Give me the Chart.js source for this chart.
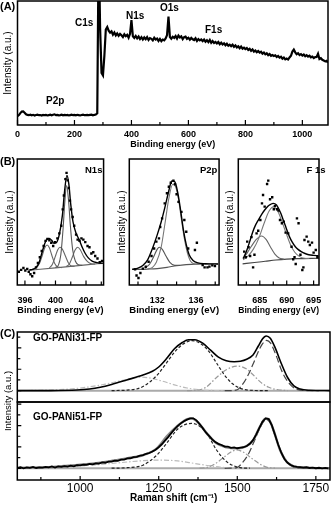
<!DOCTYPE html>
<html>
<head>
<meta charset="utf-8">
<script src="https://cdn.jsdelivr.net/npm/chart.js@4.4.1/dist/chart.umd.min.js"></script>
<style>
html,body{margin:0;padding:0;background:#fff;}
body{position:relative;width:332px;height:506px;overflow:hidden;font-family:"Liberation Sans",Arial,sans-serif;color:#000;}
canvas{position:absolute;}
.t{position:absolute;font-weight:bold;font-size:10px;line-height:10px;white-space:nowrap;}
.p{font-size:11px;line-height:11px;}
.s{font-size:9.5px;line-height:10px;}
.vt{position:absolute;font-size:9.5px;line-height:10px;white-space:nowrap;transform:translate(-50%,-50%) rotate(-90deg);}
</style>
</head>
<body>
<canvas id="cA" width="332" height="152" style="left:0;top:0"></canvas>
<canvas id="cB1" width="112" height="163" style="left:0;top:155px"></canvas>
<canvas id="cB2" width="112" height="163" style="left:114px;top:155px"></canvas>
<canvas id="cB3" width="108" height="163" style="left:224px;top:155px"></canvas>
<canvas id="cC1" width="332" height="74" style="left:0;top:330px"></canvas>
<canvas id="cC2" width="332" height="106" style="left:0;top:400px"></canvas>

<div class="t p" style="left:0;top:1px">(A)</div>
<div class="t" style="left:75px;top:18px">C1s</div>
<div class="t" style="left:126px;top:10.5px">N1s</div>
<div class="t" style="left:160px;top:3px">O1s</div>
<div class="t" style="left:205px;top:25px">F1s</div>
<div class="t" style="left:46px;top:96px">P2p</div>

<div class="t p" style="left:0;top:156px">(B)</div>
<div class="t s" style="left:85px;top:164.5px">N1s</div>
<div class="t s" style="left:200px;top:164.5px">P2p</div>
<div class="t s" style="left:306.5px;top:164.5px">F 1s</div>

<div class="t p" style="left:0;top:328px">(C)</div>
<div class="t" style="left:33px;top:333px">GO-PANi31-FP</div>
<div class="t" style="left:33px;top:412px">GO-PANi51-FP</div>
<div class="vt" style="left:8px;top:401px">Intensity (a.u.)</div>

<script>
// ---------- (A) XPS survey ----------
const surveyStart = 0;      // eV
const surveyStep = 5;       // eV
const surveyCounts = [
  7.2, 8.0, 9.6, 10.8, 10.9, 9.9, 8.6, 8.1, 7.9, 8.3,
  7.8, 8.2, 7.7, 8.1, 8.4, 7.9, 8.0, 7.6, 8.2, 7.9,
  8.1, 7.7, 8.0, 8.3, 7.8, 8.2, 8.6, 7.9, 8.1, 7.8,
  8.0, 8.3, 7.8, 8.1, 7.9, 8.2, 7.7, 8.0, 8.3, 7.9,
  8.1, 7.8, 8.2, 8.0, 7.7, 8.1, 8.4, 7.9, 8.0, 8.2,
  7.9, 8.1, 8.3, 7.8, 8.2, 8.4, 9.5, 150, 78, 42,
  40, 56, 77, 79, 76, 74.5, 75.5, 72.8, 74.6, 72.2,
  73.8, 71.9, 73.5, 72.4, 71.0, 73.1, 71.6, 72.7, 70.4, 73.5,
  84.5, 71.5, 70.2, 71.8, 69.9, 71.4, 69.3, 70.8, 68.9, 70.6,
  69.2, 70.9, 68.6, 70.1, 69.5, 68.2, 70.3, 68.9, 69.7, 67.8,
  69.4, 67.6, 68.9, 68.3, 69.8, 72.5, 87.5, 71.0, 69.6, 71.2,
  70.3, 71.8, 69.7, 72.1, 70.6, 71.5, 69.2, 70.8, 71.3, 69.5,
  70.4, 68.8, 70.2, 69.1, 68.5, 69.9, 67.8, 69.3, 68.2, 69.0,
  67.6, 68.9, 67.2, 68.4, 66.9, 68.6, 66.3, 67.7, 66.1, 67.0,
  65.8, 66.9, 65.2, 66.4, 64.9, 65.8, 64.3, 65.5, 63.9, 64.8,
  63.6, 64.7, 63.1, 64.2, 62.6, 63.5, 61.9, 63.2, 61.6, 62.4,
  61.2, 62.0, 60.5, 61.4, 59.8, 60.9, 59.2, 60.1, 58.7, 59.6,
  58.4, 59.1, 57.6, 58.5, 57.0, 57.8, 56.3, 57.2, 55.8, 56.4,
  55.6, 56.2, 54.9, 55.7, 54.3, 55.0, 53.5, 54.4, 52.9, 53.6,
  52.8, 54.5, 55.8, 59.2, 60.8, 58.6, 57.1, 57.9, 56.4, 57.2,
  56.0, 56.8, 55.5, 56.3, 55.1, 55.9, 54.6, 55.2, 54.0, 54.8,
  54.9, 57.5, 53.2, 53.9, 52.6, 52.0, 51.3, 51.8, 50.4
];
const surveyTicks = [0, 100, 200, 300, 400, 500, 600, 700, 800, 900, 1000];
const surveyLabels = [0, 200, 400, 600, 800, 1000];

// ---------- (B) high-resolution XPS ----------
const n1sDots = [[395.2,10.5],[395.5,12],[395.8,13.5],[396.05,11.5],[396.3,12.8],[396.5,10.5],[396.72,8.5],[396.95,7],[397.2,9.5],[397.45,14],[397.7,17.5],[397.95,22],[398.2,27],[398.45,31],[398.7,35],[398.95,36.5],[399.2,35.5],[399.45,33.5],[399.7,31],[399.95,34],[400.25,37],[400.5,41],[400.75,47],[400.95,60],[401.1,71],[401.3,84],[401.45,89],[401.6,83],[401.75,77],[401.9,67],[402.05,60],[402.25,54],[402.45,47],[402.7,40],[402.9,36],[403.15,35],[403.4,37],[403.65,36],[403.9,34],[404.2,31],[404.45,30],[404.7,25],[404.95,26],[405.2,23],[405.5,21],[405.8,18],[406.1,19]];
const n1sFit = [[396.6,12.0],[397.0,12.4],[397.4,13.6],[397.8,17],[398.2,25],[398.6,33],[398.9,36.5],[399.2,37],[399.5,35.5],[399.8,33],[400.1,33.5],[400.5,40],[400.9,55],[401.2,75],[401.5,87],[401.75,80],[402.0,64],[402.3,50],[402.7,41],[403.1,36],[403.5,30],[403.9,25],[404.3,21.5],[404.8,19],[405.4,17.8],[406.2,17.2]];
const n1sPeak1 = [[396.6,12.0],[397.4,13.2],[397.9,17],[398.3,24],[398.6,29.5],[398.9,31.7],[399.2,29.5],[399.5,24],[399.9,17],[400.3,14.2],[400.8,13.8]];
const n1sPeak2 = [[399.2,13.5],[399.6,16.5],[400.0,23],[400.3,28],[400.6,30],[400.9,28.5],[401.3,23],[401.7,17.5],[402.1,15],[402.5,14.9]];
const n1sPeak3 = [[400.0,13.9],[400.4,16],[400.7,24],[401.0,45],[401.2,64],[401.45,79],[401.7,68],[401.95,47],[402.25,28],[402.6,19],[403.0,16],[403.5,15.6]];
const n1sPeak4 = [[401.4,14.6],[401.8,16.5],[402.2,22],[402.55,27.5],[402.9,30],[403.25,28],[403.7,22.5],[404.2,18.5],[404.7,16.8],[405.2,16.6]];
const n1sBase = [[396.6,11.8],[398,12.5],[400,13.6],[402,14.8],[404,16],[406.2,17.2]];
const n1sTicks = [396, 398, 400, 402, 404, 406];
const n1sLabels = [396, 400, 404];

const p2pDots = [[129.7,12.4],[129.85,7.5],[130.05,5.5],[130.25,9.5],[130.5,13],[130.8,14.5],[131.1,18.5],[131.4,23],[131.67,29],[131.9,34.4],[132.17,37],[132.3,46],[132.5,52.9],[132.77,64.8],[133.0,72.8],[133.2,78],[133.4,81.2],[133.67,82.8],[133.83,80],[134.0,72],[134.2,66],[134.5,58],[134.8,51.6],[135.0,42.3],[135.2,29],[135.9,27.8],[136.1,33.5],[136.7,15.9],[136.9,14],[137.2,14],[137.4,14.6],[137.7,15.6],[137.97,15]];
const p2pFit = [[129.4,12.5],[130.0,13.4],[130.5,15.5],[131.0,20],[131.5,29],[132.0,40],[132.4,50],[132.8,62],[133.2,75],[133.5,82.5],[133.8,82],[134.1,74],[134.4,60],[134.7,44],[135.0,32],[135.3,24],[135.7,19.5],[136.2,17.5],[137.0,16.9],[138.3,16.7]];
const p2pPeak1 = [[130.7,13.3],[131.2,16.5],[131.6,22],[132.0,28.5],[132.2,30],[132.5,28.5],[132.9,23],[133.3,18],[133.8,15.6],[134.3,15.6]];
const p2pPeak2 = [[131.0,12.7],[131.5,14],[131.9,18],[132.4,30],[132.8,49],[133.2,69],[133.6,80],[133.9,78],[134.2,68],[134.5,52],[134.8,37],[135.1,26],[135.4,19.5],[135.8,16.8],[136.3,16.6]];
const p2pBase = [[129.4,12.3],[131,12.6],[132,13],[133,14],[134,15.3],[135,16.2],[136,16.6],[138.3,16.7]];
const p2pTicks = [130, 132, 134, 136, 138];
const p2pLabels = [132, 136];

const f1sDots = [[682.1,26.5],[682.4,22],[682.66,34.4],[682.9,30],[683.2,23],[683.45,38],[683.75,14],[684.0,24],[684.4,41],[684.7,43],[685.1,51.6],[685.4,64.8],[685.6,71.4],[685.9,62.2],[686.35,80.1],[686.57,82.8],[686.9,68],[687.3,69.6],[687.6,60.1],[687.8,62.8],[688.2,60.1],[688.5,59],[688.75,51.6],[689.1,49],[689.45,50.3],[689.8,41.6],[690.27,41],[690.9,30.4],[691.2,20.4],[691.45,22],[691.67,16.7],[691.9,52.9],[692.2,49],[692.55,24],[692.9,11.9],[693.1,14],[693.3,35.7],[693.7,38.4],[694.0,34.4],[694.3,31.7],[694.7,33.6],[695.0,25.7],[695.4,27.8],[695.7,22]];
const f1sFit = [[681.9,21],[682.3,24.5],[682.7,29],[683.2,35.5],[683.7,42.3],[684.2,47.5],[684.8,52.1],[685.4,56.5],[685.9,59.5],[686.5,62.5],[687.0,64],[687.5,64.8],[688.1,63.5],[688.5,60.5],[688.9,56.9],[689.3,52.2],[689.7,47.6],[690.1,42.8],[690.5,38.4],[691.0,34.2],[691.6,30.4],[692.1,28.3],[692.7,26.5],[693.4,25],[694.1,24],[695.0,23.5],[695.9,23.2]];
const f1sPeak1 = [[681.9,20.5],[682.6,25],[683.4,30.5],[684.3,36],[685.3,38.9],[686.2,36],[687.0,30],[687.8,24.5],[688.6,21.5],[689.5,20.5]];
const f1sPeak2 = [[681.9,20],[682.8,23],[683.8,28.5],[684.8,37],[685.8,49],[686.7,58.5],[687.5,62],[688.3,59],[689.1,50.5],[689.9,41],[690.7,32],[691.5,26],[692.4,22.5],[693.3,21.2],[694.2,21]];
const f1sBase = [[681.8,16.8],[684,17.8],[686,18.8],[688,19.8],[690,20.5],[692,20.9],[696,21.2]];
const f1sTicks = [682.5, 685, 687.5, 690, 692.5, 695];
const f1sLabels = [685, 690, 695];

// ---------- (C) Raman spectra ----------
const ramanTicks = [875, 1000, 1125, 1250, 1375, 1500, 1625, 1750];
const ramanLabels = [1000, 1250, 1500, 1750];

const pani31Fit = [[800,16.2],[900,16.3],[990,17.1],[1030,18.5],[1064,21],[1100,25],[1148,31.4],[1200,38.6],[1230,44],[1250,50],[1275,62],[1300,76],[1325,85],[1345,89],[1365,89],[1390,84],[1415,74],[1440,64],[1465,59],[1490,57.6],[1510,58.2],[1530,61],[1550,67],[1567,80],[1580,90],[1592,94.3],[1605,91],[1620,78],[1640,55],[1660,35],[1680,23],[1700,18.5],[1730,16.8],[1795,16.3]];
const pani31Broad = [[800,16.2],[850,16.5],[950,18],[1020,21],[1080,25.5],[1130,30.5],[1170,34],[1195,35.5],[1225,34],[1260,30],[1300,24.5],[1340,20],[1380,17.5],[1420,16.5],[1460,16.2]];
const pani31D = [[1100,16.3],[1150,17],[1190,20],[1220,28],[1250,41],[1275,56],[1300,71],[1325,82],[1355,87.6],[1385,83],[1410,72],[1435,55],[1460,38],[1485,26],[1510,19.5],[1550,16.5],[1600,16.2]];
const pani31Mid = [[1340,16.3],[1370,16.8],[1400,21],[1434,35],[1465,46],[1500,51.4],[1530,47],[1551,38.5],[1575,28],[1600,21],[1630,17.5],[1660,16.3]];
const pani31G = [[1460,16.2],[1480,16.3],[1500,17.5],[1519,26.6],[1535,39],[1551,55],[1565,70],[1580,83],[1593,88],[1606,84],[1625,64.8],[1640,46],[1657,31.4],[1675,22],[1690,18],[1720,16.3],[1760,16.2]];
const pani31Base = [[800,16.2],[1795,16.2]];
const pani31YTicks = [16.2, 31.5, 46.8, 62.1, 77.4, 92.7];
const pani31YMajor = [16.2, 46.8, 77.4];

const pani51Start = 800;   // cm-1
const pani51Step = 10;     // cm-1
const pani51Counts = [
  15.2, 16.4, 15.0, 16.1, 15.6, 16.8, 15.4, 16.3, 15.9, 16.9,
  16.2, 17.3, 16.0, 17.4, 16.9, 17.8, 17.1, 18.3, 17.6, 18.9,
  18.7, 19.8, 19.3, 20.6, 20.1, 21.4, 21.0, 22.5, 22.1, 23.6,
  23.5, 24.8, 24.6, 26.0, 26.1, 27.6, 27.9, 29.2, 29.7, 31.3,
  31.8, 33.6, 34.6, 36.5, 38.9, 42.0, 45.8, 50.4, 55.0, 60.1,
  64.8, 69.0, 72.6, 75.3, 77.4, 78.9, 79.1, 76.5, 71.8, 66.5,
  61.0, 56.6, 52.0, 48.6, 46.3, 44.9, 42.8, 42.9, 41.2, 41.8,
  40.7, 41.5, 42.0, 43.6, 46.5, 51.0, 58.2, 66.5, 74.6, 79.0,
  78.2, 70.0, 58.0, 45.5, 35.0, 27.0, 22.0, 19.2, 17.6, 16.8,
  16.6, 15.8, 16.3, 15.4, 15.9, 15.1, 15.7, 14.9, 15.5, 15.0
];
const pani51Fit = [[800,15.5],[900,16.5],[948,17.9],[1000,19.5],[1064,22.2],[1100,24.5],[1148,27.8],[1201,32],[1244,40.6],[1275,55.6],[1307,68.4],[1339,77.8],[1355,79],[1375,74],[1403,59.8],[1434,47],[1466,41.9],[1498,40.6],[1530,43.6],[1551,51.3],[1572,68.4],[1590,79],[1600,78],[1615,64.1],[1636,38.5],[1657,23.5],[1678,17.9],[1720,15.8],[1795,15]];
const pani51Broad = [[800,15.1],[850,15.6],[950,17],[1050,19.5],[1130,22.3],[1190,24.5],[1254,25.6],[1310,24.4],[1360,21.5],[1410,18.3],[1450,16.3],[1500,15.3],[1540,15.0]];
const pani51D = [[1100,15.1],[1150,15.8],[1200,19],[1244,32],[1275,47],[1307,64],[1330,70.5],[1355,72.6],[1380,69],[1403,59.8],[1434,38.5],[1466,23.5],[1490,18],[1509,15.8],[1540,15.1]];
const pani51Mid = [[1380,15.1],[1400,15.8],[1430,21],[1460,30],[1480,36],[1498,38.5],[1520,35.5],[1545,28],[1570,21],[1593,16.5],[1620,15.2]];
const pani51G = [[1460,15.0],[1480,15.2],[1498,15.8],[1519,23.5],[1535,33],[1551,47],[1568,63],[1582,74],[1593,77.8],[1605,73],[1625,51.3],[1642,34],[1657,23.5],[1675,17.5],[1700,15.2],[1740,15.0]];
const pani51Base = [[800,15],[1795,15]];
const pani51YTicks = [15, 28.7, 42.4, 56.1, 69.8, 83.5, 97.2];
const pani51YMajor = [15, 42.4, 69.8, 97.2];

// ---------- helpers ----------
const FONT = '"Liberation Sans", Arial, sans-serif';
Chart.defaults.font.family = FONT;
Chart.defaults.color = '#000';

const toXY = arr => arr.map(([x, y]) => ({x, y}));
const gridPoints = (start, step, ys) => ys.map((y, i) => ({x: start + i * step, y}));

function curve(pts, color, width, dash, smooth = true) {
  return {
    data: pts, showLine: true, borderColor: color, borderWidth: width,
    borderDash: dash || [], pointRadius: 0, fill: false,
    tension: smooth ? 0.4 : 0, cubicInterpolationMode: smooth ? 'monotone' : 'default'
  };
}
function dots(pts) {
  return { data: pts, showLine: false, pointStyle: 'rect', pointRadius: 1.7,
           backgroundColor: '#000', borderWidth: 0 };
}

// inward tick marks and frame, per canvas
const tickStyle = {};
const frameTicks = {
  id: 'frameTicks',
  afterDraw(chart) {
    const o = tickStyle[chart.canvas.id] || {};
    const {ctx, chartArea: a, scales: {x, y}} = chart;
    ctx.save();
    ctx.strokeStyle = '#000';
    ctx.lineWidth = 1.2;
    ctx.beginPath();
    if (o.x) x.ticks.forEach(t => {
      const p = x.getPixelForValue(t.value);
      const len = o.x.major.includes(t.value) ? o.x.len[0] : o.x.len[1];
      ctx.moveTo(p, a.bottom); ctx.lineTo(p, a.bottom - len);
    });
    if (o.y) y.ticks.forEach(t => {
      const p = y.getPixelForValue(t.value);
      const len = o.y.major.includes(t.value) ? o.y.len[0] : o.y.len[1];
      ctx.moveTo(a.left, p); ctx.lineTo(a.left + len, p);
    });
    ctx.stroke();
    ctx.lineWidth = 1.5;
    ctx.strokeRect(a.left, a.top, a.right - a.left, a.bottom - a.top);
    ctx.restore();
  }
};

function xAxis(o) {
  return {
    type: 'linear', min: o.min, max: o.max, display: o.show !== false,
    afterBuildTicks: s => { s.ticks = o.ticks.map(v => ({value: v})); },
    afterFit: s => { s.height = o.height || 0; },
    grid: {display: false, drawTicks: false}, border: {display: false},
    ticks: {
      autoSkip: false, maxRotation: 0, minRotation: 0, padding: o.tickPad,
      font: o.tickFont, color: '#000',
      callback: v => (o.labels.includes(v) ? String(v) : '')
    },
    title: o.title
      ? {display: true, text: o.title, font: o.titleFont, color: '#000', padding: {top: 0, bottom: o.titlePad}}
      : {display: false}
  };
}
function yAxis(o) {
  const ax = {
    type: 'linear', min: 0, max: 100,
    afterFit: s => { s.width = o.width; },
    grid: {display: false, drawTicks: false}, border: {display: false},
    ticks: {display: false},
    title: o.title
      ? {display: true, text: o.title, font: {size: 10, weight: 'normal'}, color: '#000', padding: {top: o.titlePad, bottom: 0}}
      : {display: false}
  };
  if (o.ticks) ax.afterBuildTicks = s => { s.ticks = o.ticks.map(v => ({value: v})); };
  return ax;
}
function make(id, datasets, pad, x, y) {
  return new Chart(document.getElementById(id), {
    type: 'scatter',
    data: {datasets},
    options: {
      responsive: false, animation: false, devicePixelRatio: 1,
      layout: {padding: pad},
      plugins: {legend: {display: false}, tooltip: {enabled: false}},
      scales: {x: xAxis(x), y: yAxis(y)}
    },
    plugins: [frameTicks]
  });
}

// ---------- (A) ----------
tickStyle.cA = {x: {major: surveyLabels, len: [5, 3]}};
make('cA',
  [curve(gridPoints(surveyStart, surveyStep, surveyCounts), '#000', 2.2, null, false)],
  {top: 1, right: 4, left: 0, bottom: 0},
  {min: 0, max: 1090, ticks: surveyTicks, labels: surveyLabels, height: 27, tickPad: 4.3,
   tickFont: {size: 9, weight: 'bold'}, title: 'Binding energy (eV)', titleFont: {size: 9, weight: 'bold'}, titlePad: 1.6},
  {width: 17.5, title: 'Intensity (a.u.)', titlePad: 2});

// ---------- (B) ----------
const bTick = {size: 9, weight: 'bold'};
const bTitle = {size: 9.7, weight: 'bold'};
tickStyle.cB1 = {x: {major: n1sLabels, len: [4.5, 3.5]}};
make('cB1', [
    dots(toXY(n1sDots)),
    curve(toXY(n1sFit), '#000', 1.4),
    curve(toXY(n1sPeak3), '#555', 1.1),
    curve(toXY(n1sPeak1), '#666', 1.1),
    curve(toXY(n1sPeak2), '#666', 1.1),
    curve(toXY(n1sPeak4), '#666', 1.1),
    curve(toXY(n1sBase), '#666', 1.1)
  ],
  {top: 4, right: 2.7, left: 0, bottom: 0},
  {min: 395, max: 406.3, ticks: n1sTicks, labels: n1sLabels, height: 33, tickPad: 10.6,
   tickFont: bTick, title: 'Binding energy (eV)', titleFont: bTitle, titlePad: 1.9},
  {width: 17.3, title: 'Intensity (a.u.)', titlePad: 4.5});

tickStyle.cB2 = {x: {major: p2pLabels, len: [4.5, 3.5]}};
make('cB2', [
    dots(toXY(p2pDots)),
    curve(toXY(p2pFit), '#000', 1.4),
    curve(toXY(p2pPeak2), '#777', 1.1),
    curve(toXY(p2pPeak1), '#555', 1.1),
    curve(toXY(p2pBase), '#555', 1.1)
  ],
  {top: 4, right: 4.3, left: 0, bottom: 0},
  {min: 129.1, max: 138.4, ticks: p2pTicks, labels: p2pLabels, height: 33, tickPad: 10.6,
   tickFont: bTick, title: 'Binding energy (eV)', titleFont: bTitle, titlePad: 1.9},
  {width: 15.3, title: 'Intensity (a.u.)', titlePad: 2.5});

tickStyle.cB3 = {x: {major: f1sLabels, len: [4.5, 3.5]}};
make('cB3', [
    dots(toXY(f1sDots)),
    curve(toXY(f1sFit), '#000', 1.4),
    curve(toXY(f1sPeak2), '#777', 1.1),
    curve(toXY(f1sPeak1), '#666', 1.1),
    curve(toXY(f1sBase), '#444', 1.1)
  ],
  {top: 4, right: 2, left: 0, bottom: 0},
  {min: 681, max: 696, ticks: f1sTicks, labels: f1sLabels, height: 33, tickPad: 10.6,
   tickFont: bTick, title: 'Binding energy (eV)', titleFont: bTitle, titlePad: 1.9},
  {width: 14.3, title: 'Intensity (a.u.)', titlePad: 0.5});

// ---------- (C) ----------
const dashD = [3, 2], dashG = [7, 3], dashDot = [5, 2, 1.5, 2];
tickStyle.cC1 = {y: {major: pani31YMajor, len: [4, 3]}};
make('cC1', [
    curve(toXY(pani31Fit), '#000', 1.6),
    curve(toXY(pani31D), '#222', 1.2, dashD),
    curve(toXY(pani31G), '#444', 1.2, dashG),
    curve(toXY(pani31Mid), '#999', 1.2, dashDot),
    curve(toXY(pani31Broad), '#bbb', 1.2, dashDot),
    curve(toXY(pani31Base), '#aaa', 2, null, false)
  ],
  {top: 2, right: 2, left: 0, bottom: 2},
  {min: 800, max: 1795, ticks: ramanTicks, labels: ramanLabels, show: false},
  {width: 17.3, ticks: pani31YTicks});

tickStyle.cC2 = {x: {major: ramanLabels, len: [4, 3]}, y: {major: pani51YMajor, len: [4, 3]}};
make('cC2', [
    curve(gridPoints(pani51Start, pani51Step, pani51Counts), '#000', 1.8, null, false),
    curve(toXY(pani51Fit), '#888', 2.4),
    curve(toXY(pani51D), '#222', 1.2, dashD),
    curve(toXY(pani51G), '#444', 1.2, dashG),
    curve(toXY(pani51Mid), '#999', 1.2, dashDot),
    curve(toXY(pani51Broad), '#bbb', 1.2, dashDot),
    curve(toXY(pani51Base), '#aaa', 2, null, false)
  ],
  {top: 2, right: 2, left: 0, bottom: 0},
  {min: 800, max: 1795, ticks: ramanTicks, labels: ramanLabels, height: 26, tickPad: 1.5,
   tickFont: {size: 12, weight: 'normal'}, title: 'Raman shift (cm\u207B\u00B9)', titleFont: {size: 10, weight: 'bold'}, titlePad: 2},
  {width: 17.3, ticks: pani51YTicks});
</script>
</body>
</html>
